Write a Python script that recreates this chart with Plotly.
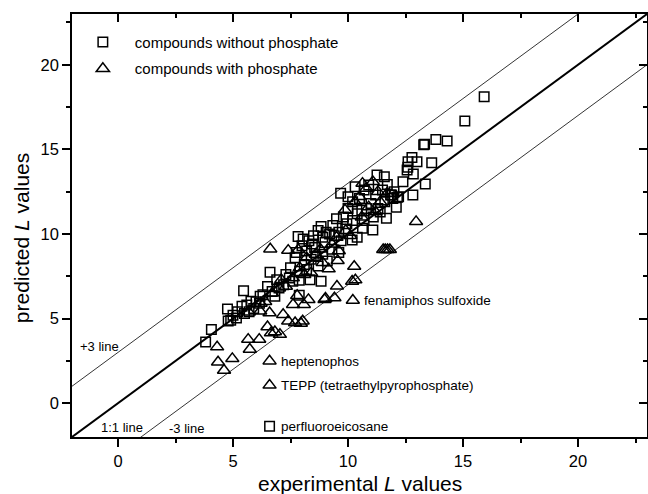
import plotly.graph_objects as go

# ---- data ----
# compounds without phosphate (squares)
sq_x = [15.92, 15.08, 14.31, 13.82, 13.29, 13.33, 13.64, 12.78, 12.61, 13.00, 12.60, 12.57,
        12.84, 13.36, 12.82, 12.39, 12.10, 11.67, 12.15, 11.71, 11.58, 11.26, 11.08, 10.63,
        10.31, 9.68, 10.00, 10.18, 9.34, 8.83, 7.83, 8.35, 8.83, 7.88, 7.88, 6.61, 6.82,
        5.46, 4.76, 4.79, 4.06, 3.81, 5.15, 5.39, 5.78, 6.18,
        11.90, 11.95, 11.50, 11.20, 11.00, 10.80, 10.50, 10.70, 10.90, 11.40, 11.60, 11.85,
        12.20, 10.40, 10.20, 10.00, 9.90, 9.60, 9.50, 9.20, 9.00, 8.90, 8.70, 8.50, 8.30,
        8.00, 8.20, 8.60, 8.90, 9.30, 9.70, 10.40, 10.70, 9.60, 9.10, 8.70, 8.40, 8.10,
        7.70, 7.50, 7.30, 7.60, 7.90, 7.20, 6.90, 7.00, 6.70, 6.50, 6.30, 6.00, 5.90, 5.60,
        5.50, 5.20, 5.00, 4.90, 5.70, 8.20, 9.40, 9.80, 10.20, 10.60, 11.30, 12.00, 11.10,
        9.95, 8.55, 7.45, 6.15, 7.75, 8.05, 8.45, 9.05]
sq_y = [18.11, 16.68, 15.50, 15.58, 15.27, 15.30, 14.21, 14.52, 14.27, 14.27, 13.95, 13.78,
        13.54, 12.95, 12.30, 13.09, 11.58, 10.93, 12.17, 12.93, 13.38, 13.48, 10.24, 10.34,
        12.79, 12.40, 12.20, 9.65, 10.50, 10.44, 9.85, 7.30, 7.20, 6.38, 7.26, 7.73, 6.32,
        6.65, 5.57, 4.85, 4.36, 3.61, 5.04, 5.73, 6.02, 6.32,
        12.30, 12.10, 12.60, 12.30, 11.80, 11.50, 12.10, 12.60, 12.90, 11.30, 11.90, 12.30,
        12.20, 11.20, 10.80, 11.50, 10.30, 10.10, 10.90, 10.00, 9.50, 9.80, 10.20, 9.90, 9.60,
        9.30, 9.00, 8.70, 8.80, 9.10, 9.60, 9.80, 10.80, 8.90, 8.40, 8.10, 8.50, 8.20,
        8.60, 8.00, 7.60, 7.20, 7.80, 7.00, 7.30, 6.80, 6.60, 6.90, 6.40, 6.00, 5.60, 5.80,
        5.30, 5.40, 5.20, 4.90, 5.40, 7.90, 9.90, 11.00, 11.90, 11.40, 11.50, 12.50, 11.00,
        10.60, 9.20, 7.40, 5.90, 8.90, 9.70, 9.40, 10.10]

# compounds with phosphate (triangles)
tri_x = [12.96, 11.53, 11.62, 11.72, 11.82, 10.27, 10.18, 10.32, 9.52, 9.41, 8.98, 9.02,
         8.28, 7.79, 8.08, 7.61, 7.18, 7.40, 8.03, 7.95, 7.70, 7.04, 6.82, 6.65, 6.50, 6.59,
         6.18, 5.69, 6.14, 5.66, 5.73, 4.97, 4.31, 4.35, 4.61, 6.62, 7.40, 7.84, 9.55, 9.16,
         10.63, 11.08, 10.80, 11.30, 9.87, 10.30, 10.50, 11.40, 11.20, 10.60, 9.90, 9.50,
         9.30, 8.80, 8.60, 8.20, 7.90, 7.60, 7.30, 7.00, 6.70, 6.40, 6.20, 8.40, 8.90, 9.60,
         10.10, 10.90, 11.70, 7.10, 8.10]
tri_y = [10.73, 9.07, 9.07, 9.07, 9.07, 8.08, 7.20, 7.28, 6.91, 6.22, 6.12, 6.20,
         6.12, 6.36, 5.83, 5.83, 5.24, 4.85, 4.85, 4.72, 4.75, 4.06, 4.22, 4.15, 4.51, 5.34,
         5.44, 5.38, 3.77, 3.77, 3.18, 2.63, 3.32, 2.43, 1.94, 9.11, 9.03, 9.07, 8.42, 7.93,
         12.99, 13.09, 12.70, 12.50, 11.42, 11.90, 12.20, 11.90, 11.30, 11.00, 10.20, 9.80,
         9.40, 9.10, 8.80, 8.60, 8.00, 7.40, 6.90, 6.80, 6.50, 6.00, 5.90, 7.70, 8.30, 9.00,
         9.90, 11.60, 12.40, 7.30, 7.60]

# labelled compounds
lab_names = ["fenamiphos sulfoxide", "heptenophos", "TEPP (tetraethylpyrophosphate)",
             "perfluoroeicosane"]
lab_series = ["tri", "tri", "tri", "sq"]
lab_x = [10.21, 6.59, 6.59, 6.59]
lab_y = [6.08, 2.49, 1.06, -1.37]

# reference lines: y = x + offset
line_x = [-2, 23]
line_offsets = [0, 3, -3]
line_widths = [2, 0.8, 0.8]
line_labels = ["1:1 line", "+3 line", "-3 line"]
line_label_x = [-0.83, -1.76, 2.14]
line_label_y = [-1.45, 3.36, -1.49]

x_range = [-2, 23]
y_range = [-2, 23]
tick_vals = [0, 5, 10, 15, 20]
tick_text = ["0", "5", "10", "15", "20"]

# ---- build series ----
sq_all_x = sq_x + [x for x, s in zip(lab_x, lab_series) if s == "sq"]
sq_all_y = sq_y + [y for y, s in zip(lab_y, lab_series) if s == "sq"]
tri_all_x = tri_x + [x for x, s in zip(lab_x, lab_series) if s == "tri"]
tri_all_y = tri_y + [y for y, s in zip(lab_y, lab_series) if s == "tri"]

FONT = "Liberation Sans, Arial, Helvetica, sans-serif"

fig = go.Figure()
# reference lines drawn on the (identical) mirror axes so that those axes are rendered
for off, w in zip(line_offsets, line_widths):
    fig.add_trace(go.Scatter(x=line_x, y=[v + off for v in line_x], mode="lines",
                             xaxis="x2", yaxis="y2",
                             line=dict(color="black", width=w), showlegend=False,
                             hoverinfo="skip"))

fig.add_trace(go.Scatter(x=sq_all_x, y=sq_all_y, mode="markers",
                         name="compounds without phosphate", legendgroup="a",
                         marker=dict(symbol="square-open", size=9.5, color="black",
                                     line=dict(width=1.5, color="black"))))
fig.add_trace(go.Scatter(x=tri_all_x, y=tri_all_y, mode="markers",
                         name="compounds with phosphate", legendgroup="b",
                         marker=dict(symbol="triangle-up-open", size=11.5, color="black",
                                     line=dict(width=1.5, color="black"))))

annotations = []
for name, x, y in zip(lab_names, lab_x, lab_y):
    annotations.append(dict(x=x, y=y, xref="x", yref="y", text=name, showarrow=False,
                            xanchor="left", yanchor="middle", xshift=9,
                            font=dict(size=13.5, family=FONT, color="black")))
for t, x, y in zip(line_labels, line_label_x, line_label_y):
    annotations.append(dict(x=x, y=y, xref="x", yref="y", text=t, showarrow=False,
                            xanchor="left", yanchor="middle",
                            font=dict(size=13, family=FONT, color="black")))
annotations.append(dict(x=0.5, y=-0.111, xref="paper", yref="paper",
                        text="experimental <i>L</i> values", showarrow=False,
                        xanchor="center", yanchor="middle",
                        font=dict(size=21, family=FONT, color="black")))
annotations.append(dict(x=-0.0887, y=0.47, xref="paper", yref="paper",
                        text="predicted <i>L</i> values", showarrow=False, textangle=-90,
                        xanchor="center", yanchor="middle",
                        font=dict(size=21, family=FONT, color="black")))

axis_common = dict(showgrid=False, zeroline=False, showline=True,
                   linecolor="black", linewidth=1.5, tickcolor="black", tickwidth=1.5,
                   tickvals=tick_vals, ticktext=tick_text, ticklen=8)
minor_out = dict(dtick=2.5, tick0=0, ticks="outside", ticklen=4,
                 tickcolor="black", tickwidth=1.5)
minor_in = dict(dtick=2.5, tick0=0, ticks="inside", ticklen=4,
                tickcolor="black", tickwidth=1.5)

fig.update_layout(
    width=648, height=494,
    margin=dict(l=72, r=1, t=14, b=57),
    plot_bgcolor="white", paper_bgcolor="white",
    font=dict(family=FONT, color="black", size=16),
    showlegend=True,
    legend=dict(x=-0.002, y=0.972, xanchor="left", yanchor="top",
                bgcolor="rgba(0,0,0,0)", font=dict(size=15, family=FONT),
                itemwidth=54, tracegroupgap=4),
    xaxis=dict(**axis_common, range=x_range, ticks="outside", minor=minor_out,
               tickfont=dict(size=16.5)),
    yaxis=dict(**axis_common, range=y_range, ticks="outside", minor=minor_out,
               tickfont=dict(size=16.5)),
    xaxis2=dict(**axis_common, range=x_range, overlaying="x", side="top",
                anchor="y2", ticks="inside", showticklabels=False, minor=minor_in),
    yaxis2=dict(**axis_common, range=y_range, overlaying="y", side="right",
                anchor="x2", ticks="inside", showticklabels=False, minor=minor_in),
    annotations=annotations,
)

fig.write_html("out.html", config={"displayModeBar": False},
               post_script="document.body.style.margin='0';"
                           "document.body.style.padding='0';")
